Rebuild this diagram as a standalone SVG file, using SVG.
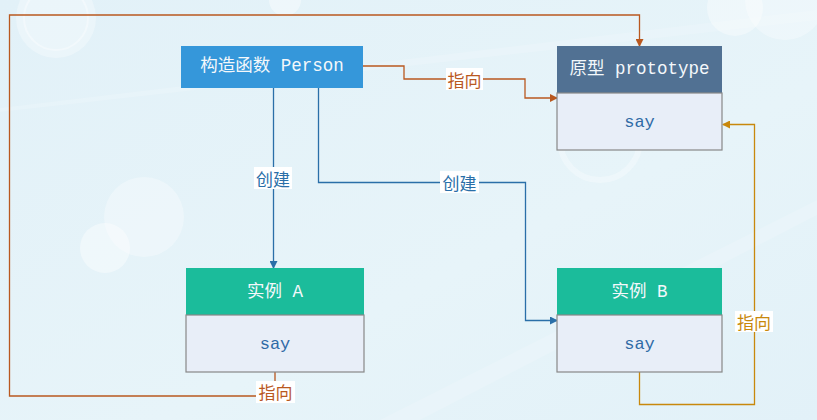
<svg xmlns="http://www.w3.org/2000/svg" width="817" height="420" viewBox="0 0 817 420">
<defs>
<linearGradient id="bg" x1="0" y1="0" x2="1" y2="1">
<stop offset="0" stop-color="#e2f1f8"/>
<stop offset="0.6" stop-color="#e7f4f9"/>
<stop offset="1" stop-color="#e2f1f8"/>
</linearGradient>
<marker id="arrBrown" markerWidth="8" markerHeight="8" refX="7" refY="4" orient="auto" markerUnits="userSpaceOnUse"><path d="M0,0 L8,4 L0,8 Z" fill="#b9581f"/></marker>
<marker id="arrBlue" markerWidth="8" markerHeight="8" refX="7" refY="4" orient="auto" markerUnits="userSpaceOnUse"><path d="M0,0 L8,4 L0,8 Z" fill="#2a6fa8"/></marker>
<marker id="arrGold" markerWidth="8" markerHeight="8" refX="7" refY="4" orient="auto" markerUnits="userSpaceOnUse"><path d="M0,0 L8,4 L0,8 Z" fill="#c8880c"/></marker>
</defs>
<style>
.t{font-family:"Liberation Mono","Noto Sans CJK SC",monospace;font-size:17.5px;text-anchor:middle;dominant-baseline:central}
.hd{fill:#f4f8fb}
.say{fill:#2f6aa6;font-size:17px}
.body{fill:#e8eef8;stroke:#888888;stroke-width:1.2}
.lbl{fill:#ffffff}
.lt{font-family:"Noto Sans CJK SC",sans-serif;font-size:17px;text-anchor:middle;dominant-baseline:central}
.brown{fill:none;stroke:#b9581f;stroke-width:1.3}
.blue{fill:none;stroke:#2a6fa8;stroke-width:1.3}
.gold{fill:none;stroke:#c8880c;stroke-width:1.3}
</style>
<rect x="0" y="0" width="817" height="420" fill="url(#bg)"/>
<g id="decor" fill="#ffffff">
<circle cx="56" cy="18" r="40" fill-opacity="0.3"/>
<circle cx="56" cy="18" r="32" fill="none" stroke="#ffffff" stroke-opacity="0.35" stroke-width="2"/>
<circle cx="144" cy="217" r="40" fill-opacity="0.3"/>
<circle cx="105" cy="248" r="25" fill-opacity="0.4"/>
<circle cx="285" cy="0" r="16" fill-opacity="0.4"/>
<circle cx="735" cy="8" r="28" fill-opacity="0.35"/>
<circle cx="785" cy="0" r="40" fill-opacity="0.3"/>
<circle cx="600" cy="140" r="40" fill="none" stroke="#ffffff" stroke-opacity="0.3" stroke-width="6"/>
<path d="M0,108 L817,10 L817,20 L0,112 Z" fill-opacity="0.15"/>
<path d="M380,420 L817,200 L817,215 L420,420 Z" fill-opacity="0.15"/>
</g>
<g id="connectors">
<polyline class="brown" points="363,66 404,66 404,79 525,79 525,98 557,98" marker-end="url(#arrBrown)"/>
<polyline class="brown" points="275,372 275,396 9.5,396 9.5,15 639.5,15 639.5,46" marker-end="url(#arrBrown)"/>
<polyline class="blue" points="273.5,88 273.5,268" marker-end="url(#arrBlue)"/>
<polyline class="blue" points="318.5,88 318.5,182.5 525.5,182.5 525.5,320.5 557,320.5" marker-end="url(#arrBlue)"/>
<polyline class="gold" points="639.5,372 639.5,404.5 754.5,404.5 754.5,124.5 723,124.5" marker-end="url(#arrGold)"/>
<rect class="lbl" x="446" y="68" width="37" height="22"/>
<text class="lt" x="464.5" y="79" fill="#b9581f">指向</text>
<rect class="lbl" x="254" y="167" width="38" height="22"/>
<text class="lt" x="273" y="178" fill="#2a6fa8">创建</text>
<rect class="lbl" x="440" y="171" width="39" height="22"/>
<text class="lt" x="459.5" y="182" fill="#2a6fa8">创建</text>
<rect class="lbl" x="256" y="381" width="39" height="22"/>
<text class="lt" x="275.5" y="391" fill="#b9581f">指向</text>
<rect class="lbl" x="735" y="311" width="38" height="21"/>
<text class="lt" x="754" y="321" fill="#c8880c">指向</text>
</g>
<g id="constructor">
<rect x="181" y="46" width="182" height="42" fill="#3597da"/>
<text class="t hd" x="272" y="66">构造函数 Person</text>
</g>
<g id="prototype">
<rect x="557" y="46" width="165" height="47" fill="#517193"/>
<rect class="body" x="557" y="93" width="165" height="57"/>
<text class="t hd" x="639.5" y="69">原型 prototype</text>
<text class="t say" x="639.5" y="122">say</text>
</g>
<g id="instanceA">
<rect x="186" y="268" width="178" height="47" fill="#1bbc9b"/>
<rect class="body" x="186" y="315" width="178" height="57"/>
<text class="t hd" x="275" y="292">实例 A</text>
<text class="t say" x="275" y="344">say</text>
</g>
<g id="instanceB">
<rect x="557" y="268" width="165" height="47" fill="#1bbc9b"/>
<rect class="body" x="557" y="315" width="165" height="57"/>
<text class="t hd" x="639.5" y="292">实例 B</text>
<text class="t say" x="639.5" y="344">say</text>
</g>
</svg>
